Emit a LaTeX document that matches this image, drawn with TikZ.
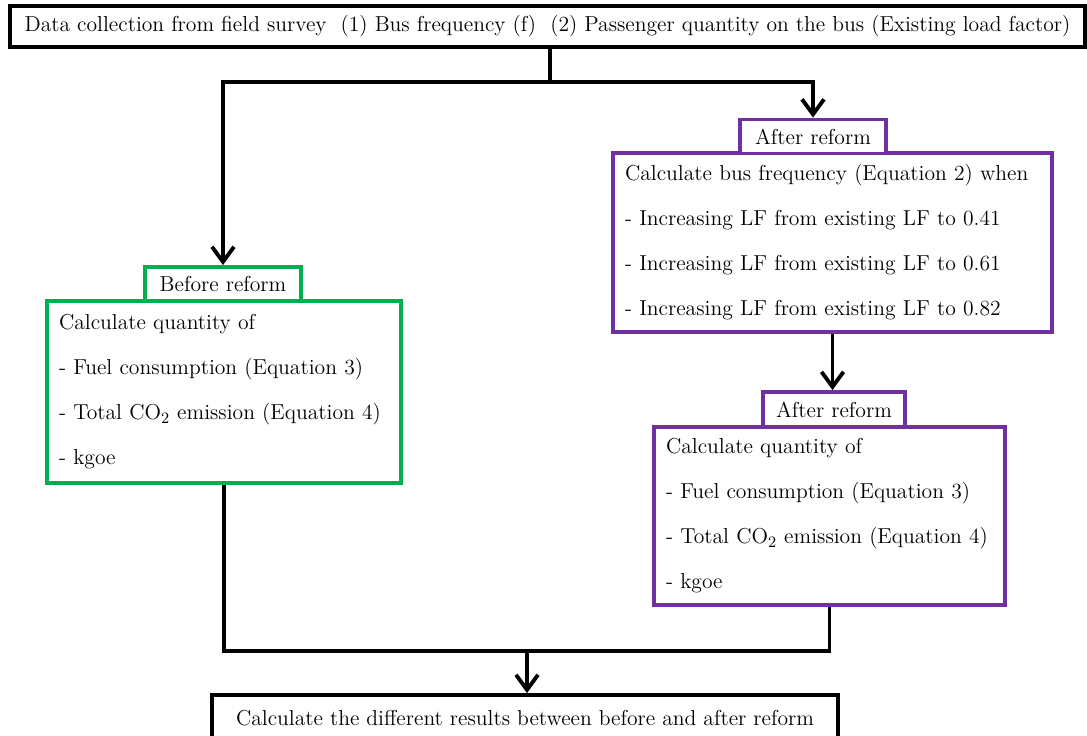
\documentclass[tikz,border=0pt]{standalone}
\usepackage{tikz}
\usetikzlibrary{arrows.meta}
\definecolor{grn}{RGB}{0,176,80}
\definecolor{prp}{RGB}{112,48,160}
\tikzset{
    >={Straight Barb[length=3mm,width=4.4mm]},
    every node/.style={font=\fontsize{12.3}{25.6}\selectfont},
    box/.style={draw, line width=2.2pt, inner xsep=0.24cm, inner ysep=0pt, align=left},
    tag/.style={draw, line width=2.2pt, inner sep=0pt, minimum height=0.68cm},
    link/.style={line width=2.2pt},
}

\begin{document}
\begin{tikzpicture}[x=0.02cm, y=-0.02cm]
\useasboundingbox (0,0) rectangle (1087,735);
\clip (0,0) rectangle (1087,735);

\node[box, minimum width=21.5cm, minimum height=0.82cm] (D) at (547.5,26.5)
    {Data collection from field survey\ \ (1) Bus frequency (f)\ \ (2) Passenger quantity on the bus (Existing load factor)};

\node[box, draw=prp, minimum width=8.78cm, minimum height=3.58cm, text width=8.30cm] (A) at (832.5,242.5)
    {Calculate bus frequency (Equation 2) when\\
     - Increasing LF from existing LF to 0.41\\
     - Increasing LF from existing LF to 0.61\\
     - Increasing LF from existing LF to 0.82};
\node[tag, draw=prp, fill=white, minimum width=2.92cm] (A1) at (813,136.5) {After reform};

\node[box, draw=prp, minimum width=7.02cm, minimum height=3.56cm, text width=6.54cm] (C) at (829.5,516)
    {Calculate quantity of\\
     - Fuel consumption (Equation 3)\\
     - Total CO$_2$ emission (Equation 4)\\
     - kgoe};
\node[tag, draw=prp, fill=white, minimum width=2.84cm, minimum height=0.7cm] (A2) at (834,409.5) {After reform};

\node[box, draw=grn, minimum width=7.08cm, minimum height=3.64cm, text width=6.60cm] (B) at (224,392)
    {Calculate quantity of\\
     - Fuel consumption (Equation 3)\\
     - Total CO$_2$ emission (Equation 4)\\
     - kgoe};
\node[tag, draw=grn, fill=white, minimum width=3.12cm] (B0) at (223,284) {Before reform};

\node[box, minimum width=12.52cm, minimum height=0.92cm] (R) at (525,718)
    {Calculate the different results between before and after reform};

\coordinate (S) at (550,82);
\coordinate (J) at (527,651);
\draw[link] (D.south -| S) -- (S);
\draw[link,->] (S) -| (B0.north);
\draw[link,->] (S) -| (A1.north);
\draw[link,->] (A.south) -- (A.south |- A2.north);
\draw[link] (B.south) |- (J) -| (C.south);
\draw[link,->] (J) -- (R.north -| J);
\end{tikzpicture}
\end{document}
